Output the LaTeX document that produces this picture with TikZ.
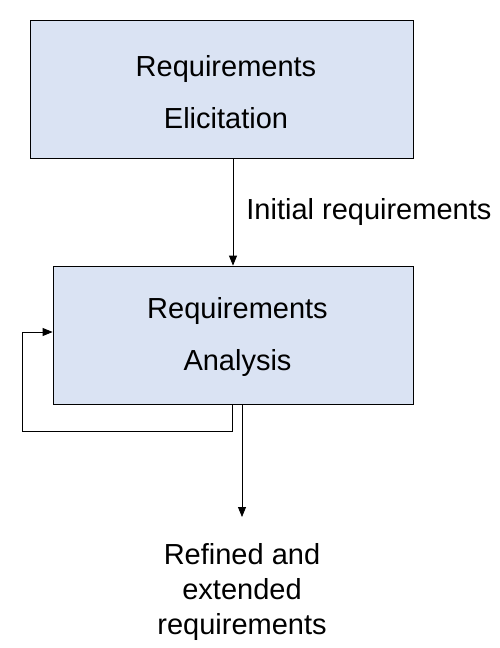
\documentclass[tikz,border=0pt]{standalone}
\usepackage{fontspec}
\setmainfont{Liberation Sans}
\usetikzlibrary{arrows.meta}
\definecolor{boxfill}{HTML}{DAE3F3}
\begin{document}
\begin{tikzpicture}[x=1pt,y=-1pt,
  procbox/.style={draw=black, line width=0.8pt, fill=boxfill, inner sep=0pt},
  boxtext/.style={align=center, inner sep=0pt, font=\fontsize{29}{52}\selectfont},
  conn/.style={draw=black, line width=0.8pt},
  arr/.style={conn, -{Triangle[length=10pt,width=8pt]}},
  lbl/.style={font=\fontsize{29}{35}\selectfont, align=center, inner sep=0pt}]
\useasboundingbox (0,0) rectangle (499,648);
\node[procbox, minimum width=383pt, minimum height=138pt] (b1) at (221.5,89) {};
\node[boxtext] (t1) at ([xshift=4.5pt,yshift=-3pt]b1.center) {Requirements\\Elicitation};
\node[procbox, minimum width=360pt, minimum height=138pt] (b2) at (233,335) {};
\node[boxtext] (t2) at ([xshift=4.5pt,yshift=-2pt]b2.center) {Requirements\\Analysis};
\draw[arr] (b1.south -| b2.north) -- node[lbl, right=13pt] (init) {Initial requirements} (b2.north);
\coordinate (lp) at (22,431);
\draw[arr] ([xshift=-1pt]b2.south) |- (lp) |- ([yshift=3pt]b2.west);
\coordinate (oe) at (242,517);
\draw[arr] ([xshift=9pt]b2.south) -- (oe);
\node[lbl] (out) at (242,592) {Refined and\\extended\\requirements};
\end{tikzpicture}
\end{document}
